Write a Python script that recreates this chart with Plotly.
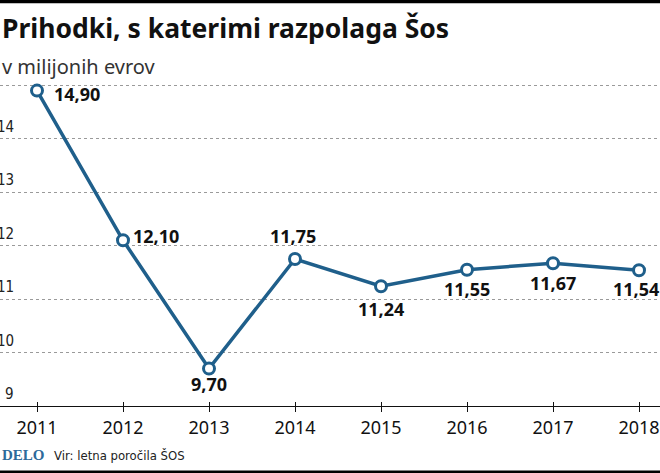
import plotly.graph_objects as go

years = [2011, 2012, 2013, 2014, 2015, 2016, 2017, 2018]
values = [14.90, 12.10, 9.70, 11.75, 11.24, 11.55, 11.67, 11.54]
labels = ["14,90", "12,10", "9,70", "11,75", "11,24", "11,55", "11,67", "11,54"]
y_ticks = [9, 10, 11, 12, 13, 14]
grid_vals = [10, 11, 12, 13, 14, 15]

title = "Prihodki, s katerimi razpolaga Šos"
subtitle = "v milijonih evrov"
source = "Vir: letna poročila ŠOS"

# label placement (style): (xanchor, xshift, yshift)
placement = [
    ("left", 15, -3),
    ("left", 8, 4),
    ("center", 0, -15),
    ("center", -2, 23),
    ("center", 0, -23),
    ("center", 0, -19),
    ("center", 0, -20),
    ("center", -3, -19),
]

W, H = 660, 473
mt, mb = 83, 67
ph = H - mt - mb
px_per_year = 86.0
x0 = 2011 - 37 / px_per_year
x1 = x0 + W / px_per_year
y_lo = 9
y_hi = 9 + ph / 53.46

def py(p):
    return (H - mb - p) / ph

blue = "#1f5f8b"

fig = go.Figure()
fig.add_trace(go.Scatter(
    x=years, y=values, mode="lines+markers",
    line=dict(color=blue, width=3.5),
    marker=dict(size=11, color="white", line=dict(color=blue, width=3)),
    hoverinfo="skip", showlegend=False,
))
# dummy trace for second x-axis (inside ticks)
fig.add_trace(go.Scatter(x=years, y=values, xaxis="x2", mode="none",
                         showlegend=False, hoverinfo="skip"))

ann = []
for yr, v, t, (xa, xs, ys) in zip(years, values, labels, placement):
    ann.append(dict(x=yr, y=v, xref="x", yref="y", text=t, showarrow=False,
                    xanchor=xa, yanchor="middle", xshift=xs, yshift=ys,
                    font=dict(family="Noto Sans", size=18, color="#111", weight="bold")))
for tv in y_ticks:
    ann.append(dict(x=0, y=tv, xref="paper", yref="y", text=str(tv), showarrow=False,
                    xanchor="right", yanchor="bottom", xshift=16, yshift=1,
                    font=dict(family="Liberation Sans Narrow, DejaVu Sans Condensed", size=15, color="#222")))
ann.append(dict(x=0, y=py(28), xref="paper", yref="paper", text="<b>" + title + "</b>",
                showarrow=False, xanchor="left", yanchor="middle", xshift=0,
                font=dict(family="Noto Sans", size=26.5, color="#111")))
ann.append(dict(x=0, y=py(66), xref="paper", yref="paper", text=subtitle,
                showarrow=False, xanchor="left", yanchor="middle", xshift=0,
                font=dict(family="Noto Sans", size=20, color="#333")))
ann.append(dict(x=0, y=py(455), xref="paper", yref="paper", text="<b>DELO</b>",
                showarrow=False, xanchor="left", yanchor="middle", xshift=0,
                font=dict(family="Liberation Serif", size=15, color="#2d6a9a")))
ann.append(dict(x=0, y=py(455), xref="paper", yref="paper", text=source,
                showarrow=False, xanchor="left", yanchor="middle", xshift=52,
                font=dict(family="Liberation Sans Narrow, DejaVu Sans Condensed", size=13, color="#222")))

shapes = [
    dict(type="rect", xref="paper", yref="paper", x0=0, x1=1, y0=py(3.3), y1=py(0),
         layer="above", fillcolor="black", line=dict(color="black", width=0)),
    dict(type="rect", xref="paper", yref="paper", x0=0, x1=1, y0=py(473), y1=py(470.5),
         layer="above", fillcolor="black", line=dict(color="black", width=0)),
]

fig.update_layout(
    width=W, height=H,
    margin=dict(l=0, r=0, t=mt, b=mb, pad=0),
    paper_bgcolor="white", plot_bgcolor="white",
    xaxis=dict(range=[x0, x1], tickvals=years, ticktext=[str(y) for y in years],
               showgrid=False, zeroline=False, showline=True, linecolor="#111", linewidth=1,
               ticks="outside", ticklen=5, tickcolor="#111", tickwidth=1,
               tickfont=dict(family="Noto Sans", size=18, color="#111")),
    xaxis2=dict(range=[x0, x1], tickvals=years, overlaying="x", anchor="y", side="bottom",
                showticklabels=False, showgrid=False, zeroline=False, showline=False,
                ticks="inside", ticklen=4, tickcolor="#111", tickwidth=1),
    yaxis=dict(range=[y_lo, y_hi], tickvals=grid_vals, showticklabels=False,
               showgrid=True, gridcolor="#9a9a9a", griddash="dot", gridwidth=1,
               zeroline=False, showline=False, ticks=""),
    annotations=ann, shapes=shapes,
)

post = "document.body.style.margin='0';document.body.style.overflow='hidden';"
fig.write_html("out.html", config={"displayModeBar": False}, post_script=post)
